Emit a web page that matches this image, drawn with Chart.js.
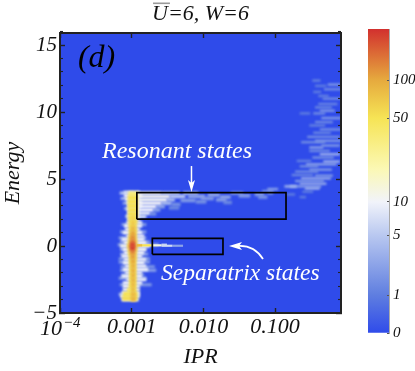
<!DOCTYPE html>
<html><head><meta charset="utf-8">
<style>html,body{margin:0;padding:0;background:#fff}canvas{position:absolute;top:0}#m{left:0}#c{left:350px}</style>
<script src="https://cdn.jsdelivr.net/npm/chart.js@4"></script></head>
<body><canvas id="m" width="415" height="371"></canvas><canvas id="c" width="65" height="371"></canvas>
<script>
const xMajorTicks=[0.0001,0.001,0.01,0.1];
const xMajorLabels=['','0.001','0.010','0.100'];
const xFirstLabel=['10','\u22124'];
const xMinorTicks=[0.0002,0.0003,0.0004,0.0005,0.0006,0.0007,0.0008,0.0009,0.002,0.003,0.004,0.005,0.006,0.007,0.008,0.009,0.02,0.03,0.04,0.05,0.06,0.07,0.08,0.09,0.2,0.3,0.4,0.5,0.6,0.7,0.8];
const yMajorTicks=[-5,0,5,10,15];
const yMinorTicks=[-4,-3,-2,-1,1,2,3,4,6,7,8,9,11,12,13,14,16];
const cbLabels=['0','1','5','10','50','100'];
const cbValues=[0,1,5,10,50,100,250];
const cbPositions=[0,0.125,0.322,0.431,0.707,0.832,1];
const cbColors=['#2f4bea','#5f7ee0','#b9c8f0','#f1f3fa','#fbf8b4','#f6e455','#e6aa3e','#d2302e'];
const cbColorPos=[0,0.125,0.322,0.431,0.54,0.707,0.832,1];

// [energy, IPR from, IPR to, count]
const ridgeFaint=[
[3.95,.00068,.0011,5],[3.55,.0007,.0011,4],[3.2,.00075,.0011,3.5],[2.8,.00078,.0011,3],[2.2,.00081,.0011,3],[1.6,.00072,.0016,2.5],[1.05,.00069,.0016,3],[.6,.00066,.0016,3],[.3,.00069,.0018,3],[.1,.00064,.0024,3],[-.25,.00069,.0016,3.5],[-.6,.00069,.0017,3],[-.95,.00066,.0018,2.5],[-1.2,.00066,.0018,3],[-1.55,.0007,.0021,2.5],[-1.8,.00069,.0022,3],[-2.15,.00072,.0015,2],[-2.4,.00066,.0016,3],[-2.9,.00068,.0019,2.5],[-3.6,.00066,.0013,4]];
const ridgeHalo=[
[4,.00077,.0013,7],[3.75,.00078,.0014,10],[3.5,.00081,.0013,10],[3.25,.00084,.0014,10],[3,.00086,.0014,10],[2.75,.00084,.0013,10],[2.5,.00086,.0013,10],[2.25,.00084,.0013,9],[2,.00086,.0013,9],
[1.75,.00084,.0014,9],[1.5,.00078,.0014,10],[1.25,.00081,.0013,10],[1,.00075,.0014,10],[.75,.00084,.0015,9],[.5,.00072,.0015,10],[.25,.00078,.0016,11],[0,.00069,.0018,13],[-.25,.00075,.0016,11],
[-.5,.00078,.0015,10],[-.75,.00072,.0014,10],[-1,.00078,.0016,9],[-1.25,.00075,.0015,10],[-1.5,.00081,.0016,9],[-1.75,.00075,.0017,10],[-2,.00081,.0014,9],[-2.25,.00072,.0014,10],[-2.5,.00084,.0016,9],
[-2.75,.00075,.0014,10],[-3,.00075,.0013,11],[-3.25,.00075,.0013,12],[-3.5,.00072,.0013,13],[-3.75,.00069,.0013,16],[-4,.00072,.00125,13]];
const ridgeCore=[
[3.9,.00089,.00122,40],[3.6,.00088,.00122,50],[3.3,.00088,.00122,52],[3,.00088,.00122,52],[2.7,.00089,.00122,52],[2.4,.00089,.00122,52],[2.1,.00089,.0012,52],[1.8,.0009,.0012,54],[1.5,.0009,.00118,56],[1.2,.00091,.00118,56],[.9,.00091,.00118,58],[.6,.00089,.00118,60],
[.3,.00088,.0012,64],[0,.00086,.00122,75],[-.3,.00088,.0012,64],[-.6,.00089,.00118,58],[-.9,.00091,.00118,56],[-1.2,.00091,.00116,54],[-1.5,.00092,.00116,54],[-1.8,.00092,.00116,54],[-2.1,.00092,.00116,52],[-2.4,.00092,.00116,54],[-2.7,.00092,.00116,52],[-3,.00091,.00116,50],[-3.3,.00086,.00116,46],[-3.6,.00076,.0012,52],[-3.9,.00074,.0012,54]];
const ridgeCentre=[
[2.1,.00099,.0011,62],[1.7,.00098,.00111,72],[1.3,.00097,.00112,85],[.95,.00096,.00112,100],[.65,.00095,.00112,125],[.35,.00095,.00112,150],[.1,.00094,.00112,215],[-.15,.00094,.00112,225],[-.45,.00095,.00112,140],[-.8,.00096,.00112,110],[-1.15,.00097,.00112,98],[-1.5,.00098,.00112,92],[-1.85,.00098,.00112,92],[-2.2,.00098,.00112,90],[-2.55,.00098,.00112,88],[-2.9,.00098,.00112,85],[-3.25,.00098,.00112,80],[-3.6,.00097,.00114,85],[-3.95,.00097,.00114,90]];
const separatrixStates=[
[.05,.00118,.0019,50],[.05,.00118,.0014,85],[.05,.0019,.0026,16],[.02,.0026,.0037,7],[.02,.0037,.0052,3],[.1,.0026,.0031,6]];
const resonantStates=[
[3.95,.00118,.0026,13],[3.7,.00118,.0034,13],[3.45,.00118,.0031,12],[3.2,.00118,.0026,11],[2.95,.00118,.0022,10],[2.7,.00118,.002,10],[2.45,.00118,.0018,8],[2.2,.00118,.0016,7],
[3.95,.0026,.0047,5],[3.7,.0034,.0056,5],[3.45,.0031,.004,4],[3.2,.0026,.0036,4],[2.95,.0022,.0029,3],[2.7,.002,.0025,3],[2.4,.0018,.0022,2],
[3.95,.0052,.0085,4],[3.7,.0061,.0105,3],[3.4,.0048,.0078,2.5],[3.1,.0036,.0048,2],[3.8,.0115,.017,3],[3.55,.0092,.014,2.5],[3.3,.0078,.011,2],[3.65,.017,.024,3],[3.45,.015,.021,2.5],
[3.95,.024,.036,2],[3.75,.031,.045,2.5],[3.25,.019,.025,1.5],[2.85,.0033,.0046,1.5],
[3.85,.052,.07,2.5],[3.65,.058,.078,2],[3.95,.078,.094,1.5]];
const upperCloud=[
[4.1,.066,.095,2],[4.25,.078,.11,3],[3.85,.145,.19,1],[3.65,.22,.27,1],[4.05,.24,.34,1],
[4.45,.16,.44,3],[4.45,.135,.2,4],[4.65,.22,.52,3.5],[4.3,.26,.42,4],[4.85,.19,.48,2.5],[5.05,.23,.6,3.5],[5.3,.17,.34,1.5],[5.25,.36,.64,2.5],
[5.55,.19,.4,1.8],[5.7,.3,.62,2.5],[5.95,.22,.4,1.8],[6.1,.27,.72,3],[6.35,.2,.32,1.2],[6.3,.47,.8,4],[6.6,.33,.66,2],[6.85,.42,.8,4],[7.1,.3,.58,1.8],
[7.35,.3,.47,3],[7.5,.44,.8,2.5],[7.75,.23,.5,1.8],[7.85,.36,.83,2.5],[8.15,.28,.8,2],[8.45,.34,.6,1.5],[8.7,.42,.83,2],[9,.3,.5,1.2],[9.25,.36,.64,1.8],[9.55,.44,.83,2.5],
[9.9,.22,.31,1],[9.9,.34,.5,1.8],[10.1,.42,.68,2.5],[10.35,.36,.62,1.5],[10.6,.4,.74,1.5],[11,.46,.83,1.8],[11.2,.4,.56,1.2],[11.5,.34,.44,1],[11.7,.48,.83,1.8],[12.05,.54,.83,2.5],[12.35,.33,.43,1.2],[11.95,.36,.52,1]];

const boxes=[[.00118,.142,2,3.98],[.00194,.01875,-.62,.57]];
const downArrow=[.00682,5.97,4.03];
const curveArrow=[.0678,-.97,.0508,.07,.02275,0];
const annotations=[['(d)',.000178,13.36,32,'left'],['Resonant states',.00429,6.57,24,'center'],['Separatrix states',.00256,-2.54,23.5,'left']];
const plotTitle='U=6, W=6';

function lerp(a,b,t){return a+(b-a)*t}
function hex(c){return [1,3,5].map(i=>parseInt(c.substr(i,2),16))}
function cbPos(v){
  for(let i=1;i<cbValues.length;i++) if(v<=cbValues[i]) return lerp(cbPositions[i-1],cbPositions[i],(v-cbValues[i-1])/(cbValues[i]-cbValues[i-1]));
  return 1;
}
function colorOf(v){
  const p=cbPos(v);
  for(let i=1;i<cbColorPos.length;i++) if(p<=cbColorPos[i]){
    const t=(p-cbColorPos[i-1])/(cbColorPos[i]-cbColorPos[i-1]),a=hex(cbColors[i-1]),b=hex(cbColors[i]);
    return 'rgb('+a.map((x,k)=>Math.round(lerp(x,b[k],t))).join(',')+')';
  }
  return cbColors[cbColors.length-1];
}
const streakSets=[[ridgeFaint,3,1],[ridgeHalo,3.4,.8],[ridgeCore,5,1],[ridgeCentre,5,1.1],[separatrixStates,2.2,.7],[resonantStates,3.6,1],[upperCloud,2.4,.8]];
const datasets=[];
streakSets.forEach(([rows,w,blur])=>rows.forEach(r=>datasets.push({
  data:[{x:r[1],y:r[0]},{x:r[2],y:r[0]}],showLine:true,pointRadius:0,borderCapStyle:'butt',
  borderColor:colorOf(r[3]),borderWidth:w,order:-r[3],blurPx:blur})));
boxes.forEach(b=>datasets.push({data:[{x:b[0],y:b[2]},{x:b[1],y:b[2]},{x:b[1],y:b[3]},{x:b[0],y:b[3]},{x:b[0],y:b[2]}],showLine:true,pointRadius:0,borderColor:'#000',borderWidth:1.7,borderJoinStyle:'miter',order:-1000}));

const serif='"Liberation Serif"';
const ink='#222';
function axis(side,major,main){
  const horiz=side==='bottom'||side==='top',len=major?5:3;
  const ticksList=horiz?(major?xMajorTicks:xMinorTicks):(major?yMajorTicks:yMinorTicks);
  const o={type:horiz?'logarithmic':'linear',position:side,min:horiz?0.0001:-5,max:horiz?0.83:15.9,weight:main?1:0,
    afterBuildTicks:s=>{s.ticks=ticksList.map(v=>({value:v}))},
    afterFit:s=>{if(horiz)s.height=main?58:0;else s.width=main?60:0},
    border:{display:major,color:ink,width:2,z:2},
    grid:{drawOnChartArea:false,drawTicks:true,tickLength:-len,tickColor:ink,tickWidth:major?1.4:1.1,z:2},
    ticks:{display:!!main,autoSkip:false,maxRotation:0,minRotation:0,color:'#111',font:{family:serif,style:'italic',size:horiz?22:21},padding:len+(horiz?1:3),
      callback:horiz?(v=>xMajorLabels[xMajorTicks.indexOf(v)]):(v=>v<0?'\u2212'+(-v):String(v))},
    title:{display:false}};
  if(main) o.title={display:true,text:horiz?'IPR':'Energy',color:'#111',font:{family:serif,style:'italic',size:22},padding:{top:0,bottom:1}};
  return o;
}
const plotPlugin={id:'plot',
  beforeDraw(c){const a=c.chartArea,x=c.ctx;x.save();x.fillStyle=cbColors[0];x.fillRect(a.left,a.top,a.width,a.height);x.restore()},
  beforeDatasetDraw(c,args){const d=c.data.datasets[args.index];c.ctx.filter=d.blurPx?'blur('+d.blurPx+'px)':'none'},
  afterDatasetDraw(c){c.ctx.filter='none'},
  afterDatasetsDraw(c){
    const x=c.ctx,sx=c.scales.x,sy=c.scales.y;
    x.save();x.textBaseline='alphabetic';
    annotations.forEach(t=>{x.font='italic '+t[3]+'px '+serif;x.textAlign=t[4];x.fillStyle=t[0]==='(d)'?'#000':'#fff';x.fillText(t[0],sx.getPixelForValue(t[1]),sy.getPixelForValue(t[2]))});
    x.strokeStyle='#fff';x.fillStyle='#fff';x.lineWidth=1.5;
    const ax=sx.getPixelForValue(downArrow[0]),ay0=sy.getPixelForValue(downArrow[1]),ay1=sy.getPixelForValue(downArrow[2]);
    x.beginPath();x.moveTo(ax,ay0);x.lineTo(ax,ay1-8);x.stroke();
    x.beginPath();x.moveTo(ax,ay1);x.lineTo(ax-3.5,ay1-12);x.lineTo(ax,ay1-9);x.lineTo(ax+3.5,ay1-12);x.closePath();x.fill();
    const p=curveArrow,cx0=sx.getPixelForValue(p[0]),cy0=sy.getPixelForValue(p[1]),cx1=sx.getPixelForValue(p[2]),cy1=sy.getPixelForValue(p[3]),cx2=sx.getPixelForValue(p[4]),cy2=sy.getPixelForValue(p[5]);
    x.lineWidth=1.8;x.beginPath();x.moveTo(cx0,cy0);x.quadraticCurveTo(cx1,cy1,cx2+9,cy2);x.stroke();
    x.beginPath();x.moveTo(cx2,cy2);x.lineTo(cx2+13,cy2-4);x.lineTo(cx2+10,cy2);x.lineTo(cx2+13,cy2+4);x.closePath();x.fill();
    x.restore();
  },
  afterDraw(c){
    const x=c.ctx,sx=c.scales.x,px=sx.getPixelForValue(xMajorTicks[0]);
    x.save();x.fillStyle='#111';x.textBaseline='alphabetic';
    x.font='italic 22px '+serif;x.textAlign='right';x.fillText(xFirstLabel[0],px+2,335);
    x.font='italic 15px '+serif;x.textAlign='left';x.fillText(xFirstLabel[1],px+3,327);
    x.font='italic 22px '+serif;const w=x.measureText('U').width,tw=x.measureText(plotTitle).width,l=(c.chartArea.left+c.chartArea.right-tw)/2;
    x.fillStyle='#999';x.fillRect(l+1,2.5,w+1,1.6);
    x.restore();
  }};
new Chart(document.getElementById('m'),{type:'scatter',data:{datasets},plugins:[plotPlugin],
  options:{responsive:false,animation:false,events:[],layout:{padding:{right:74,left:0,top:0,bottom:0}},
    plugins:{legend:{display:false},tooltip:{enabled:false},
      title:{display:true,fullSize:false,text:plotTitle,color:'#111',font:{family:serif,style:'italic',size:22,weight:'normal'},padding:{top:1,bottom:5.6}}},
    scales:{x:axis('bottom',true,true),y:axis('left',true,true),xb:axis('bottom',false),yl:axis('left',false),xt:axis('top',true),xtm:axis('top',false),yr:axis('right',true),yrm:axis('right',false)}}});

new Chart(document.getElementById('c'),{type:'bar',
  data:{labels:['counts'],datasets:[{data:[1],categoryPercentage:1,barPercentage:1,borderWidth:0,
    backgroundColor(ctx){const a=ctx.chart.chartArea;if(!a)return cbColors[0];const g=ctx.chart.ctx.createLinearGradient(0,a.bottom,0,a.top);cbColors.forEach((c,i)=>g.addColorStop(cbColorPos[i],c));return g}}]},
  options:{responsive:false,animation:false,events:[],layout:{padding:{left:18,top:29,bottom:38,right:0}},
    plugins:{legend:{display:false},tooltip:{enabled:false},title:{display:false}},
    scales:{x:{display:false,offset:true},
      y:{position:'right',min:0,max:1,afterBuildTicks:s=>{s.ticks=cbPositions.slice(0,6).map(v=>({value:v}))},
        afterFit:s=>{s.width=26},
        border:{display:true,color:'#aaa',width:1,z:2},
        grid:{drawOnChartArea:false,tickLength:-2,tickColor:'#555',tickWidth:1,z:2},
        ticks:{autoSkip:false,color:'#111',padding:6,font:{family:serif,style:'italic',size:15},callback:v=>cbLabels[cbPositions.indexOf(v)]}}}}});
</script></body></html>
